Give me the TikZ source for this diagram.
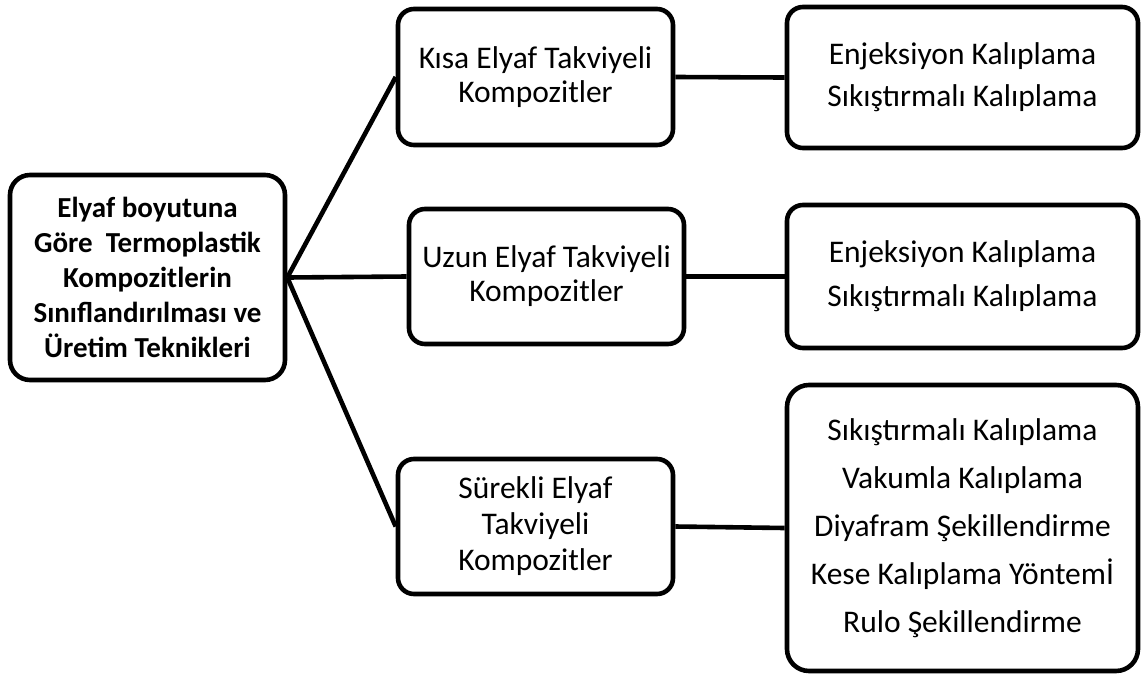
\documentclass[tikz,border=0pt]{standalone}
\usepackage{fontspec}
\setmainfont{Carlito}
\tikzset{
  box/.style={draw, line width=4.6pt, rounded corners=16pt, align=center,
    inner sep=0pt, font=\fontsize{31.5}{34}\selectfont},
  leaf/.style={box, minimum width=351pt},
}
\begin{document}
\begin{tikzpicture}[x=1pt,y=-1pt]
      \useasboundingbox (0,0) rectangle (1143,675);
      \draw
        (147.5,277.5) node[box, font=\fontsize{29}{35}\selectfont\bfseries,
          minimum width=275pt, minimum height=205pt, rounded corners=20pt] (main)
          {Elyaf boyutuna\\Göre~ Termoplastik\\Kompozitlerin\\Sınıflandırılması ve\\Üretim Teknikleri}
        (535.5,77) node[box, minimum width=275pt, minimum height=136pt] (kisa)
          {Kısa Elyaf Takviyeli\\Kompozitler}
        (546.5,276.5) node[box, minimum width=275pt, minimum height=135pt] (uzun)
          {Uzun Elyaf Takviyeli\\Kompozitler}
        (535.5,526.5) node[box, font=\fontsize{31.5}{36}\selectfont,
          minimum width=275pt, minimum height=135pt] (surekli)
          {Sürekli Elyaf\\Takviyeli\\Kompozitler}
        (962.5,77.5) node[leaf, minimum height=141pt] (kisaY)
          {Enjeksiyon Kalıplama\\[8pt]Sıkıştırmalı Kalıplama}
        (962.5,276.5) node[leaf, minimum height=143pt] (uzunY)
          {Enjeksiyon Kalıplama\\[10pt]Sıkıştırmalı Kalıplama}
        (962.5,528) node[leaf, minimum height=286pt, rounded corners=22pt] (surekliY)
          {Sıkıştırmalı Kalıplama\\[14pt]Vakumla Kalıplama\\[14pt]Diyafram Şekillendirme\\[14pt]Kese Kalıplama Yöntemİ\\[14pt]Rulo Şekillendirme};
      \begin{scope}[line width=4.6pt]
        \draw (main.east) to (kisa.west);
        \draw (main.east) to (uzun.west);
        \draw (main.east) to (surekli.west);
        \draw (kisa.east) to (kisaY.west);
        \draw (uzun.east) to (uzunY.west);
        \draw (surekli.east) to (surekliY.west);
      \end{scope}
    \end{tikzpicture}
\end{document}
